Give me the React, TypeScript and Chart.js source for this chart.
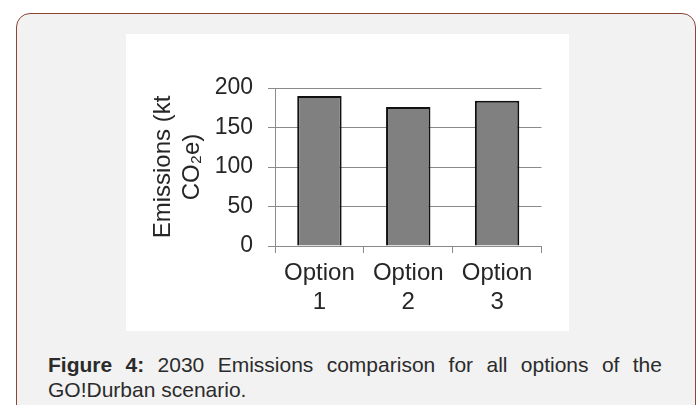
import React, { useEffect, useRef } from "react";
import { Chart, registerables } from "chart.js";

Chart.register(...registerables);

const categories: string[][] = [["Option", "1"], ["Option", "2"], ["Option", "3"]];
const emissions: number[] = [190, 176, 184];
const yTitle: string[] = ["Emissions (kt", "CO\u2082e)"];
const yMin = 0;
const yMax = 200;
const yStep = 50;

const FONT = "'Liberation Sans', Arial, sans-serif";
const GRID = "#8a8a8a";
const TEXT = "#262626";

export default function App() {
  const ref = useRef<HTMLCanvasElement | null>(null);

  useEffect(() => {
    if (!ref.current) return;
    const chart = new Chart(ref.current, {
      type: "bar",
      data: {
        labels: categories,
        datasets: [
          {
            data: emissions,
            backgroundColor: "#808080",
            borderColor: "#111111",
            borderWidth: 2,
            categoryPercentage: 1,
            barPercentage: 0.5,
          },
        ],
      },
      options: {
        animation: false,
        responsive: false,
        devicePixelRatio: 1,
        layout: { padding: { left: 19, top: 54, right: 27.5, bottom: 0 } },
        plugins: { legend: { display: false }, tooltip: { enabled: false } },
        scales: {
          x: {
            offset: true,
            grid: { display: true, drawOnChartArea: false, tickLength: 7, color: GRID, offset: true },
            border: { display: true, color: GRID },
            ticks: {
              padding: 6,
              color: TEXT,
              font: { family: FONT, size: 24, lineHeight: 1.2 },
              maxRotation: 0,
              autoSkip: false,
            },
            afterFit: (s: any) => {
              s.height = 85;
            },
          },
          y: {
            min: yMin,
            max: yMax,
            grid: { color: GRID, tickLength: 7, lineWidth: 1 },
            border: { display: true, color: GRID },
            ticks: {
              stepSize: yStep,
              padding: 15,
              color: TEXT,
              font: { family: FONT, size: 23 },
            },
            title: {
              display: true,
              text: yTitle,
              color: TEXT,
              font: { family: FONT, size: 24, lineHeight: 1.2 },
              padding: { top: 4, bottom: 4 },
            },
            afterFit: (s: any) => {
              s.width = 130;
            },
          },
        },
      },
    });
    return () => chart.destroy();
  }, []);

  return (
    <div
      style={{
        position: "fixed",
        left: 0,
        top: 0,
        width: 697,
        height: 405,
        overflow: "hidden",
        background: "#ffffff",
        fontFamily: FONT,
      }}
    >
      <div
        style={{
          position: "absolute",
          left: 16,
          top: 13,
          width: 680,
          height: 440,
          boxSizing: "border-box",
          border: "1.5px solid #8b4535",
          borderRadius: 14,
          background: "#f2f2f2",
        }}
      />
      <div
        style={{
          position: "absolute",
          left: 126,
          top: 34,
          width: 443,
          height: 297,
          background: "#ffffff",
        }}
      >
        <canvas ref={ref} width={443} height={297} style={{ display: "block" }} />
      </div>
      <div
        style={{
          position: "absolute",
          left: 48,
          top: 352,
          width: 614,
          fontSize: 21,
          lineHeight: "25px",
          color: "#2b2b2b",
          textAlign: "justify",
        }}
      >
        <b>Figure 4:</b> 2030 Emissions comparison for all options of the GO!Durban scenario.
      </div>
    </div>
  );
}
